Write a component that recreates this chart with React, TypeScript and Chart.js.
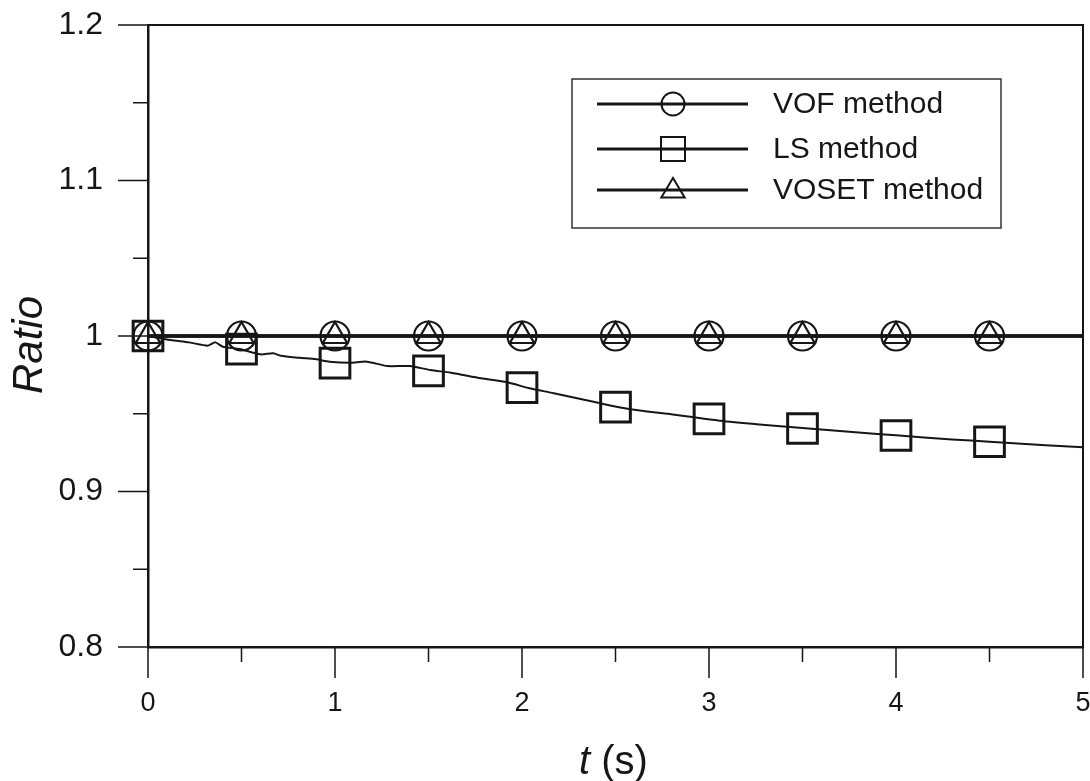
import React, { useEffect, useRef } from "react";
import { Chart, registerables } from "chart.js";

Chart.register(...registerables);

// ---- data ----
const vofT = [0, 0.5, 1, 1.5, 2, 2.5, 3, 3.5, 4, 4.5, 5];
const vofRatio = [1, 1, 1, 1, 1, 1, 1, 1, 1, 1, 1];

const vosetT = [0, 0.5, 1, 1.5, 2, 2.5, 3, 3.5, 4, 4.5, 5];
const vosetRatio = [1, 1, 1, 1, 1, 1, 1, 1, 1, 1, 1];

const lsLineT = [0, 0.12, 0.22, 0.32, 0.36, 0.4, 0.49, 0.6, 0.67, 0.71, 0.81, 0.9, 0.97, 1.08, 1.17, 1.28, 1.4, 1.51, 1.62, 1.78, 1.92, 2.04, 2.17, 2.42, 2.58, 2.79, 3.06, 3.3, 3.5, 3.8, 4.0, 4.3, 4.5, 4.8, 5.0];
const lsLineRatio = [1.0, 0.9974, 0.9959, 0.9938, 0.9959, 0.9931, 0.9916, 0.9882, 0.9889, 0.9873, 0.986, 0.985, 0.9835, 0.9828, 0.9835, 0.9807, 0.9807, 0.9781, 0.9764, 0.9728, 0.9702, 0.9664, 0.9632, 0.9567, 0.9529, 0.9498, 0.9455, 0.9428, 0.9408, 0.938, 0.9361, 0.9335, 0.932, 0.9298, 0.9284];

const lsMarkT = [0, 0.5, 1, 1.5, 2, 2.5, 3, 3.5, 4, 4.5];
const lsMarkRatio = [1.0, 0.9916, 0.9826, 0.9776, 0.9668, 0.9543, 0.9467, 0.9405, 0.936, 0.932];

const xMajorTicks = [0, 1, 2, 3, 4, 5];
const xTickLabels = ["0", "1", "2", "3", "4", "5"];
const xMinorTicks = [0.5, 1.5, 2.5, 3.5, 4.5];
const yMajorTicks = [0.8, 0.9, 1.0, 1.1, 1.2];
const yTickLabels = ["0.8", "0.9", "1", "1.1", "1.2"];
const yMinorTicks = [0.85, 0.95, 1.05, 1.15];

const legendLabels = ["VOF method", "LS method", "VOSET method"];
const xTitleItalic = "t";
const xTitleRest = "(s)";
const yTitle = "Ratio";

const INK = "#161616";
const FONT = "'Liberation Sans', Arial, sans-serif";

const zip = (xs: number[], ys: number[]) => xs.map((x, i) => ({ x, y: ys[i] }));

function drawMarker(ctx: CanvasRenderingContext2D, style: string, x: number, y: number, r: number) {
  ctx.beginPath();
  if (style === "circle") {
    ctx.arc(x, y, r, 0, Math.PI * 2);
  } else if (style === "rect") {
    ctx.rect(x - r, y - r, 2 * r, 2 * r);
  } else {
    const h = r * 1.5;
    ctx.moveTo(x, y - h * 0.62);
    ctx.lineTo(x + r * 0.9, y + h * 0.38);
    ctx.lineTo(x - r * 0.9, y + h * 0.38);
    ctx.closePath();
  }
  ctx.stroke();
}

const decorPlugin = {
  id: "decor",
  afterDraw(chart: any) {
    const { ctx, chartArea, scales } = chart;
    const xs = scales.x;
    const ys = scales.y;
    ctx.save();
    // frame top & right
    ctx.strokeStyle = INK;
    ctx.lineWidth = 2;
    ctx.beginPath();
    ctx.moveTo(chartArea.left, chartArea.top);
    ctx.lineTo(chartArea.right, chartArea.top);
    ctx.lineTo(chartArea.right, chartArea.bottom);
    ctx.stroke();
    // ticks
    ctx.lineWidth = 1.5;
    ctx.beginPath();
    yMajorTicks.forEach((v) => {
      const p = ys.getPixelForValue(v);
      ctx.moveTo(chartArea.left - 30, p);
      ctx.lineTo(chartArea.left, p);
    });
    yMinorTicks.forEach((v) => {
      const p = ys.getPixelForValue(v);
      ctx.moveTo(chartArea.left - 15, p);
      ctx.lineTo(chartArea.left, p);
    });
    xMajorTicks.forEach((v) => {
      const p = xs.getPixelForValue(v);
      ctx.moveTo(p, chartArea.bottom);
      ctx.lineTo(p, chartArea.bottom + 31);
    });
    xMinorTicks.forEach((v) => {
      const p = xs.getPixelForValue(v);
      ctx.moveTo(p, chartArea.bottom);
      ctx.lineTo(p, chartArea.bottom + 15);
    });
    ctx.stroke();

    // x tick labels
    ctx.fillStyle = INK;
    ctx.font = `27px ${FONT}`;
    ctx.textAlign = "center";
    ctx.textBaseline = "middle";
    xMajorTicks.forEach((v, i) => {
      ctx.fillText(xTickLabels[i], xs.getPixelForValue(v), chartArea.bottom + 57);
    });

    // axis titles
    ctx.save();
    ctx.translate(30, 345);
    ctx.rotate(-Math.PI / 2);
    ctx.font = `italic 42px ${FONT}`;
    ctx.textAlign = "center";
    ctx.fillText(yTitle, 0, 0);
    ctx.restore();

    ctx.textAlign = "left";
    ctx.font = `italic 40px ${FONT}`;
    const wT = ctx.measureText(xTitleItalic + " ").width;
    ctx.font = `40px ${FONT}`;
    const wR = ctx.measureText(xTitleRest).width;
    const cx = (chartArea.left + chartArea.right) / 2 - 2;
    const x0 = cx - (wT + wR) / 2;
    ctx.font = `italic 40px ${FONT}`;
    ctx.fillText(xTitleItalic, x0, 763);
    ctx.font = `40px ${FONT}`;
    ctx.fillText(xTitleRest, x0 + wT, 763);

    // legend
    const bx = 572, by = 79, bw = 429, bh = 149;
    ctx.fillStyle = "#ffffff";
    ctx.fillRect(bx, by, bw, bh);
    ctx.strokeStyle = "#333";
    ctx.lineWidth = 1.5;
    ctx.strokeRect(bx, by, bw, bh);
    const rows = [104, 149, 190];
    const styles = ["circle", "rect", "triangle"];
    const radii = [11.5, 12, 13];
    rows.forEach((ry, i) => {
      ctx.strokeStyle = INK;
      ctx.lineWidth = 3;
      ctx.beginPath();
      ctx.moveTo(597, ry);
      ctx.lineTo(748, ry);
      ctx.stroke();
      ctx.lineWidth = 2;
      drawMarker(ctx, styles[i], 673, ry, radii[i]);
      ctx.fillStyle = INK;
      ctx.font = `30px ${FONT}`;
      ctx.textAlign = "left";
      ctx.textBaseline = "middle";
      ctx.fillText(legendLabels[i], 773, ry + 1);
    });
    ctx.restore();
  },
};

export default function App() {
  const ref = useRef<HTMLCanvasElement>(null);
  useEffect(() => {
    if (!ref.current) return;
    const chart = new Chart(ref.current, {
      type: "scatter",
      data: {
        datasets: [
          {
            label: legendLabels[0],
            data: zip(vofT, vofRatio),
            showLine: true,
            borderColor: INK,
            borderWidth: 3.5,
            pointStyle: "circle",
            pointRadius: (c: any) => (c.raw && c.raw.x === 5 ? 0 : 14.5),
            pointBorderWidth: 2.2,
            pointBorderColor: INK,
            pointBackgroundColor: "rgba(0,0,0,0)",
            clip: false,
          },
          {
            label: legendLabels[2],
            data: zip(vosetT, vosetRatio),
            showLine: true,
            borderColor: INK,
            borderWidth: 3.5,
            pointStyle: "triangle",
            pointRadius: (c: any) => (c.raw && c.raw.x === 5 ? 0 : 14),
            pointBorderWidth: 2.2,
            pointBorderColor: INK,
            pointBackgroundColor: "rgba(0,0,0,0)",
            clip: false,
          },
          {
            label: legendLabels[1],
            data: zip(lsLineT, lsLineRatio),
            showLine: true,
            borderColor: INK,
            borderWidth: 2,
            tension: 0.25,
            pointRadius: 0,
          },
          {
            label: legendLabels[1] + " markers",
            data: zip(lsMarkT, lsMarkRatio),
            showLine: false,
            pointStyle: "rect",
            pointRadius: 21,
            pointBorderWidth: 3,
            pointBorderColor: INK,
            pointBackgroundColor: "rgba(0,0,0,0)",
            clip: false,
          },
        ],
      },
      options: {
        animation: false,
        responsive: false,
        events: [],
        layout: { autoPadding: false, padding: { top: 25, right: 7, left: 0, bottom: 0 } },
        plugins: { legend: { display: false }, tooltip: { enabled: false } },
        scales: {
          x: {
            type: "linear",
            min: 0,
            max: 5,
            afterBuildTicks: (s: any) => {
              s.ticks = xMajorTicks.map((v) => ({ value: v }));
            },
            afterFit: (s: any) => {
              s.height = 134;
              s.paddingLeft = 0;
              s.paddingRight = 0;
            },
            ticks: { display: false },
            grid: { display: false, drawTicks: false },
            border: { display: true, color: INK, width: 2.5 },
          },
          y: {
            type: "linear",
            min: 0.8,
            max: 1.2,
            afterBuildTicks: (s: any) => {
              s.ticks = yMajorTicks.map((v) => ({ value: v }));
            },
            afterFit: (s: any) => {
              s.width = 148;
              s.paddingTop = 0;
              s.paddingBottom = 0;
            },
            ticks: {
              padding: 45,
              color: INK,
              font: { family: FONT, size: 32 },
              autoSkip: false,
              callback: (v: any) => {
                const i = yMajorTicks.findIndex((t) => Math.abs(t - Number(v)) < 1e-9);
                return i >= 0 ? yTickLabels[i] : "";
              },
            },
            grid: { display: false, drawTicks: false },
            border: { display: true, color: INK, width: 2.5 },
          },
        },
      },
      plugins: [decorPlugin],
    });
    return () => chart.destroy();
  }, []);
  return (
    <div style={{ position: "absolute", left: 0, top: 0, width: 1090, height: 781, background: "#fff" }}>
      <canvas ref={ref} width={1090} height={781} />
    </div>
  );
}
